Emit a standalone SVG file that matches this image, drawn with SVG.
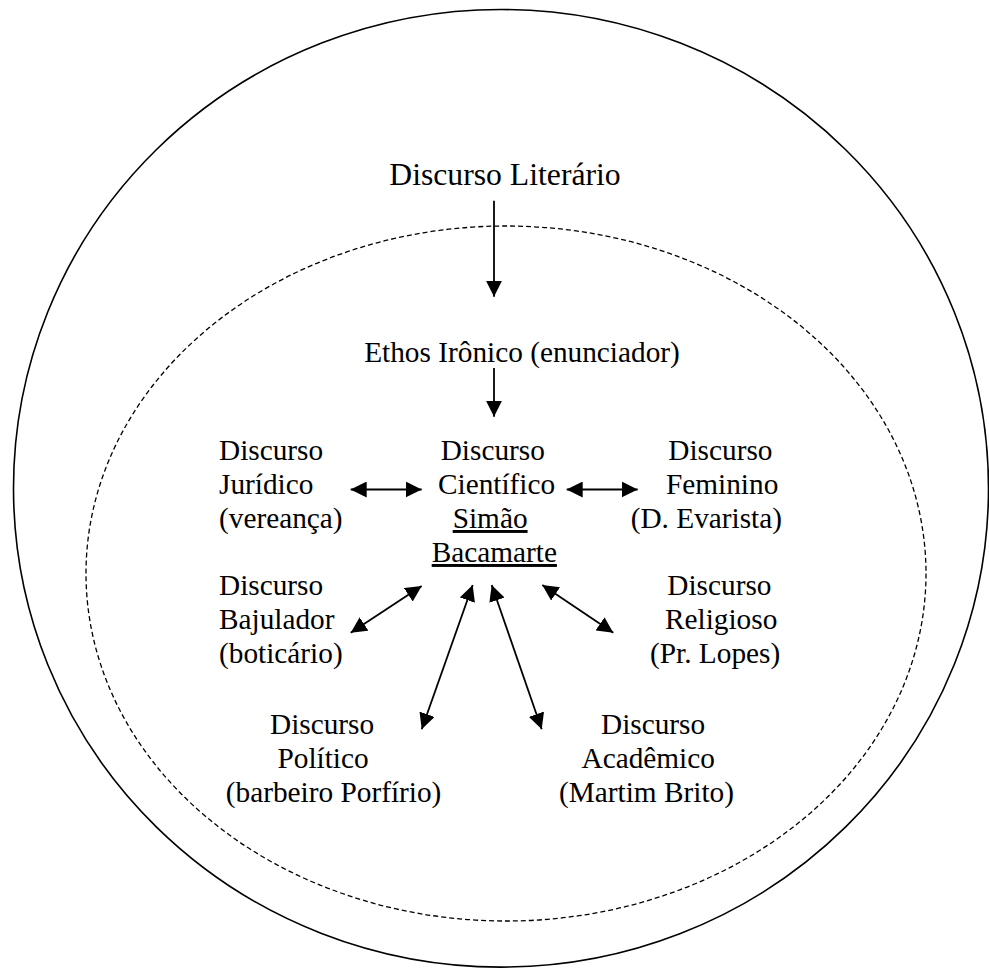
<svg xmlns="http://www.w3.org/2000/svg" width="989" height="969" viewBox="0 0 989 969">
<style>
  text { font-family: "Liberation Serif", "Times New Roman", serif; font-size: 29.3px; fill: #000; }
  .big { font-size: 31.7px; }
  .u { text-decoration: underline; }
  .outer { fill: none; stroke: #000; stroke-width: 1.6; }
  .inner { fill: none; stroke: #000; stroke-width: 1.3; stroke-dasharray: 5 3; }
  .conn line { stroke: #000; stroke-width: 1.8; }
</style>
<defs>
  <marker id="ah" markerUnits="userSpaceOnUse" markerWidth="16" markerHeight="16" refX="16" refY="8" orient="auto-start-reverse" viewBox="0 0 16 16">
    <path d="M0,0 L16,8 L0,16 z" fill="#000"/>
  </marker>
</defs>
<rect width="989" height="969" fill="#fff"/>
<ellipse class="outer" cx="501" cy="488.3" rx="487.5" ry="478.8"/>
<ellipse class="inner" cx="506" cy="573.5" rx="420" ry="347.5"/>

<g id="literario"><text class="big" x="505" y="185" text-anchor="middle">Discurso Literário</text></g>
<g id="ethos"><text x="522" y="361.5" text-anchor="middle">Ethos Irônico (enunciador)</text></g>
<g id="cientifico">
  <text x="440.7" y="460">Discurso</text>
  <text x="438" y="494">Científico</text>
  <text class="u" x="452.7" y="528">Simão</text>
  <text class="u" x="431.7" y="562">Bacamarte</text>
</g>
<g id="juridico">
  <text x="219" y="460">Discurso</text>
  <text x="219" y="494">Jurídico</text>
  <text x="219" y="528">(vereança)</text>
</g>
<g id="feminino">
  <text x="668.3" y="460">Discurso</text>
  <text x="666" y="494">Feminino</text>
  <text x="630.7" y="528">(D. Evarista)</text>
</g>
<g id="bajulador">
  <text x="219" y="595">Discurso</text>
  <text x="219" y="629">Bajulador</text>
  <text x="219" y="663">(boticário)</text>
</g>
<g id="religioso">
  <text x="667.3" y="595">Discurso</text>
  <text x="665" y="629">Religioso</text>
  <text x="650" y="663">(Pr. Lopes)</text>
</g>
<g id="politico">
  <text x="270" y="734">Discurso</text>
  <text x="277.5" y="768">Político</text>
  <text x="225.8" y="802">(barbeiro Porfírio)</text>
</g>
<g id="academico">
  <text x="601" y="734">Discurso</text>
  <text x="581.5" y="768">Acadêmico</text>
  <text x="559" y="802">(Martim Brito)</text>
</g>

<g id="connectors" class="conn">
  <line x1="494" y1="200.7" x2="494" y2="296.7" marker-end="url(#ah)"/>
  <line x1="494" y1="368" x2="494" y2="416.7" marker-end="url(#ah)"/>
  <line x1="350.7" y1="489.5" x2="421.7" y2="489.5" marker-start="url(#ah)" marker-end="url(#ah)"/>
  <line x1="566.7" y1="489.5" x2="637.7" y2="489.5" marker-start="url(#ah)" marker-end="url(#ah)"/>
  <line x1="350.7" y1="632.7" x2="421.7" y2="586" marker-start="url(#ah)" marker-end="url(#ah)"/>
  <line x1="421.7" y1="729.3" x2="472.7" y2="585" marker-start="url(#ah)" marker-end="url(#ah)"/>
  <line x1="541.7" y1="729.3" x2="491.7" y2="585" marker-start="url(#ah)" marker-end="url(#ah)"/>
  <line x1="613.3" y1="632.7" x2="542.3" y2="585" marker-start="url(#ah)" marker-end="url(#ah)"/>
</g>
</svg>
